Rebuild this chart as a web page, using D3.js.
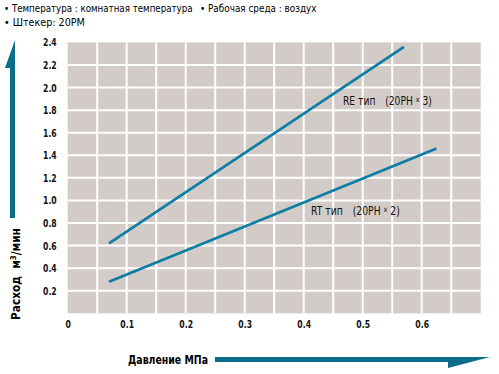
<!DOCTYPE html>
<html>
    <head>
        <meta charset="utf-8">
        <script src="https://d3js.org/d3.v7.min.js"></script>
        <style>
            body { margin: 0; background: #fff; }
            text { font-family: "DejaVu Sans", sans-serif; font-stretch: condensed; }
        </style>
    </head>
    <body>
        <div id="my_dataviz"></div>
        <script>
            // data
            const reType = [[0.07, 0.62], [0.57, 2.36]];
            const rtType = [[0.07, 0.28], [0.625, 1.46]];
            const xTicks = [0, 0.1, 0.2, 0.3, 0.4, 0.5, 0.6];
            const yTicks = [0.2, 0.4, 0.6, 0.8, 1.0, 1.2, 1.4, 1.6, 1.8, 2.0, 2.2, 2.4];
            const xGrid = [0.05, 0.1, 0.15, 0.2, 0.25, 0.3, 0.35, 0.4, 0.45, 0.5, 0.55, 0.6, 0.65];
            const yGrid = [0.2, 0.4, 0.6, 0.8, 1.0, 1.2, 1.4, 1.6, 1.8, 2.0, 2.2];
            const notes = ["• Температура : комнатная температура", "• Рабочая среда : воздух", "• Штекер: 20PM"];

            const W = 499, H = 374;
            const margin = {top: 42.4, right: 18.3, bottom: 60.7, left: 67.7},
                width = W - margin.left - margin.right,
                height = H - margin.top - margin.bottom;

            const root = d3.select("#my_dataviz")
              .append("svg")
                .attr("width", W)
                .attr("height", H);

            // squeeze a text horizontally so it spans w pixels (the original uses a condensed face)
            function fit(t, x, y, w, rot) {
                const k = w / t.node().getBBox().width;
                t.attr("transform", `translate(${x},${y}) rotate(${rot || 0}) scale(${k},1)`);
                return t;
            }

            // header notes
            fit(root.append("text").attr("font-size", 10.5).text(notes[0]), 4, 11.5, 189);
            fit(root.append("text").attr("font-size", 10.5).text(notes[1]), 200, 11.5, 117);
            fit(root.append("text").attr("font-size", 10.5).text(notes[2]), 4, 25.5, 81);

            const svg = root.append("g")
                .attr("transform", `translate(${margin.left},${margin.top})`);

            const x = d3.scaleLinear().domain([0, 0.7]).range([0, width]);
            const y = d3.scaleLinear().domain([0, 2.4]).range([height, 0]);

            // gray plot area with white grid
            svg.append("rect")
                .attr("width", width)
                .attr("height", height)
                .attr("fill", "#d2cbc8");

            svg.append("g").selectAll("line")
                .data(xGrid)
                .join("line")
                .attr("x1", d => x(d)).attr("x2", d => x(d))
                .attr("y1", 0).attr("y2", height)
                .attr("stroke", "#fff").attr("stroke-width", 2);

            svg.append("g").selectAll("line")
                .data(yGrid)
                .join("line")
                .attr("y1", d => y(d)).attr("y2", d => y(d))
                .attr("x1", 0).attr("x2", width)
                .attr("stroke", "#fff").attr("stroke-width", 2);

            // axes (labels only)
            const kTick = 0.78;
            const xAxis = svg.append("g")
                .attr("transform", `translate(0, ${height})`)
                .call(d3.axisBottom(x).tickValues(xTicks).tickSize(0).tickPadding(7)
                    .tickFormat(d => d === 0 ? "0" : d3.format(".1f")(d)));
            const yAxis = svg.append("g")
                .call(d3.axisLeft(y).tickValues(yTicks).tickSize(0).tickPadding(10).tickFormat(d3.format(".1f")));
            [xAxis, yAxis].forEach(a => {
                a.select(".domain").remove();
                a.selectAll("text")
                    .attr("font-family", "'DejaVu Sans', sans-serif")
                    .attr("font-size", 11)
                    .attr("font-weight", "bold")
                    .attr("fill", "#111")
                    .attr("transform", `scale(${kTick},1)`);
            });
            yAxis.selectAll("text").attr("x", -11 / kTick);

            // lines
            const line = d3.line().x(d => x(d[0])).y(d => y(d[1]));
            [reType, rtType].forEach(s => {
                svg.append("path")
                    .datum(s)
                    .attr("d", line)
                    .attr("fill", "none")
                    .attr("stroke", "#0a7fa3")
                    .attr("stroke-width", 2.6);
            });

            // series labels
            function seriesLabel(px, py, name, n) {
                const t = root.append("text")
                    .attr("font-size", 11.5)
                    .attr("fill", "#111");
                t.append("tspan").text(name);
                t.append("tspan").attr("dx", 11).text("(20PH ");
                t.append("tspan").attr("font-size", 8).attr("dy", -3).text("x");
                t.append("tspan").attr("dy", 3).text(" " + n + ")");
                fit(t, px, py, 89);
            }
            seriesLabel(343, 105, "RE тип", 3);
            seriesLabel(311, 215, "RT тип", 2);

            // axis arrows and titles
            const arrowColor = "#0b6d8a";
            root.append("polygon")
                .attr("points", "15,40 15,218 10,218 10,68 5,68")
                .attr("fill", arrowColor);
            root.append("polygon")
                .attr("points", "215,357 490,357 448,368 448,362 215,362")
                .attr("fill", arrowColor);

            const yTitle = root.append("text")
                .attr("font-size", 12)
                .attr("font-weight", "bold")
                .html("Расход&#160;&#160;м<tspan font-size='8' dy='-4'>3</tspan><tspan dy='4'>/мин</tspan>");
            fit(yTitle, 20, 320, 92, -90);

            const xTitle = root.append("text")
                .attr("font-size", 12.5)
                .attr("font-weight", "bold")
                .text("Давление МПа");
            fit(xTitle, 128, 364, 80);
        </script>
    </body>
</html>
